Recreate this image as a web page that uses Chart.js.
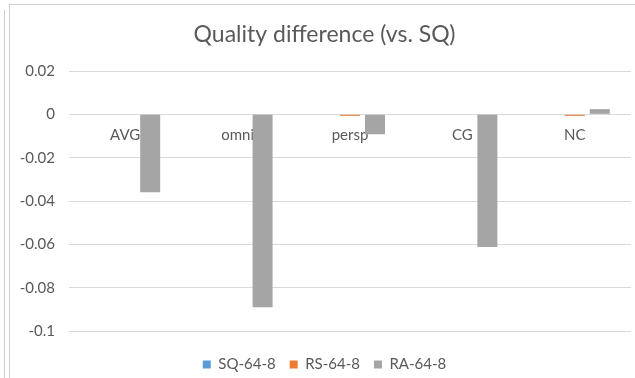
<!DOCTYPE html>
<html>
<head>
<meta charset="utf-8">
<script src="https://cdn.jsdelivr.net/npm/chart.js@4"></script>
<style>
  html, body { margin: 0; padding: 0; background: #ffffff; }
  #wrap { position: relative; width: 635px; height: 378px; overflow: hidden; background: #ffffff; }
  #chart { position: absolute; left: 0; top: 0; }
  .edge { position: absolute; pointer-events: none; }
  #frame { left: 9px; top: 4px; width: 700px; height: 420px; border-left: 1px solid #cfcfcf; border-top: 1px solid #cfcfcf; }
  #side { left: 4px; top: 10px; width: 0; height: 420px; border-left: 1px solid #cfcfcf; }
</style>
</head>
<body>
<div id="wrap">
  <canvas id="chart" width="635" height="382"></canvas>
  <div class="edge" id="frame"></div>
  <div class="edge" id="side"></div>
</div>
<script>
// Categories and series values
const categories = ['AVG', 'omni', 'persp', 'CG', 'NC'];
const seriesNames = ['SQ-64-8', 'RS-64-8', 'RA-64-8'];
const sqValues = [0, 0, 0, 0, 0];
const rsValues = [0, 0, -0.0007, 0, -0.0007];
const raValues = [-0.036, -0.089, -0.0092, -0.0612, 0.0024];
// Value axis ticks
const yTickValues = [0.02, 0, -0.02, -0.04, -0.06, -0.08, -0.1];
const yTickLabels = ['0.02', '0', '-0.02', '-0.04', '-0.06', '-0.08', '-0.1'];

const textColor = '#595959';
const gridColor = '#d9d9d9';
const fontFamily = 'Lato, "Open Sans", sans-serif';

new Chart(document.getElementById('chart'), {
  type: 'bar',
  data: {
    labels: categories,
    datasets: [
      { label: seriesNames[0], data: sqValues, backgroundColor: '#5b9bd5' },
      { label: seriesNames[1], data: rsValues, backgroundColor: '#ed7d31' },
      { label: seriesNames[2], data: raValues, backgroundColor: '#a5a5a5' }
    ]
  },
  options: {
    responsive: false,
    animation: false,
    devicePixelRatio: 1,
    layout: { padding: { left: 18, right: 4, top: 0, bottom: 0 } },
    datasets: {
      bar: { categoryPercentage: 0.667, barPercentage: 0.8, borderWidth: 0 }
    },
    scales: {
      x: {
        position: { y: 0 },
        grid: { display: false, drawTicks: false },
        border: { display: false },
        ticks: {
          color: textColor,
          padding: 12,
          font: { family: fontFamily, size: 15 }
        }
      },
      y: {
        min: -0.1,
        max: 0.02,
        grid: { color: gridColor, lineWidth: 1, drawTicks: false },
        border: { display: false },
        afterBuildTicks: (scale) => {
          scale.ticks = yTickValues.map(v => ({ value: v }));
        },
        afterFit: (scale) => { scale.width = 51; },
        ticks: {
          color: textColor,
          padding: 14,
          font: { family: fontFamily, size: 15 },
          callback: (value) => {
            const i = yTickValues.findIndex(t => Math.abs(t - value) < 1e-9);
            return i >= 0 ? yTickLabels[i] : '';
          }
        }
      }
    },
    plugins: {
      title: {
        display: true,
        text: 'Quality difference (vs. SQ)',
        color: textColor,
        font: { family: fontFamily, size: 23, weight: 'normal' },
        padding: { top: 21, bottom: 22.4 }
      },
      legend: {
        position: 'bottom',
        title: { display: true, text: '', font: { size: 10 }, padding: 0 },
        labels: {
          color: textColor,
          boxWidth: 8,
          boxHeight: 8,
          padding: 14,
          font: { family: fontFamily, size: 15 }
        }
      },
      tooltip: { enabled: false }
    }
  }
});
</script>
</body>
</html>
